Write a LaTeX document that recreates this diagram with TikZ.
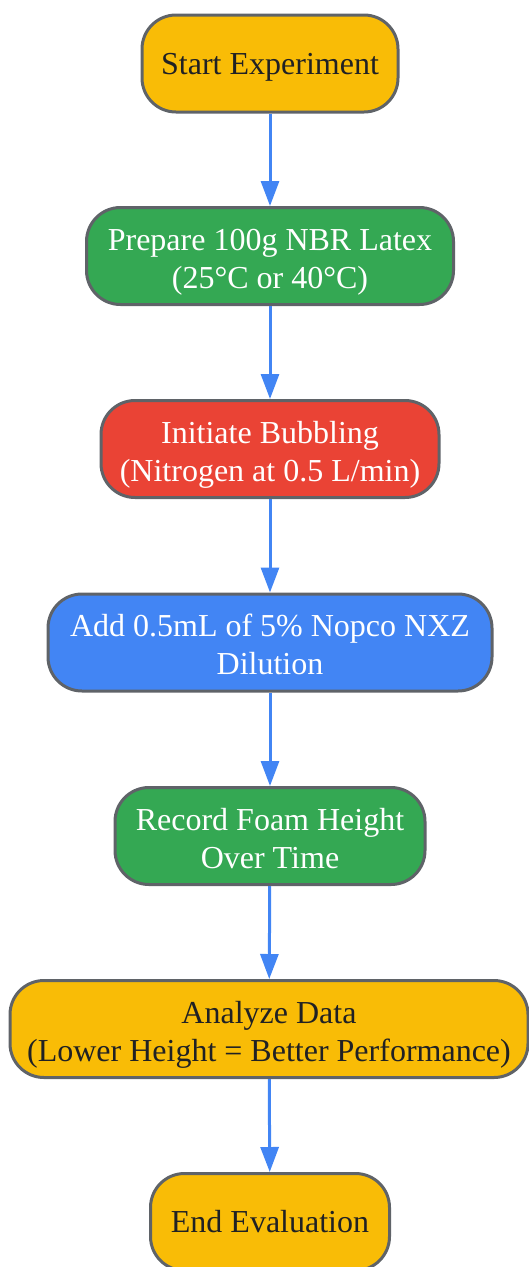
\documentclass[tikz,border=0pt]{standalone}
\usepackage{fontspec}
\setmainfont{Liberation Serif}
\usetikzlibrary{arrows.meta}
\definecolor{gyellow}{HTML}{F9BC06}
\definecolor{ggreen}{HTML}{34A853}
\definecolor{gred}{HTML}{EA4335}
\definecolor{gblue}{HTML}{4285F4}
\definecolor{gborder}{HTML}{5F6368}
\definecolor{gtext}{HTML}{202124}
\newcommand{\topst}{\rule{0pt}{29.8pt}}
\newcommand{\toptwo}{\rule{0pt}{34.8pt}}
\newcommand{\botst}{\rule[-8.2pt]{0pt}{8.2pt}}
\tikzset{
  box/.style={draw=gborder, line width=3pt, rounded corners=34pt, align=center,
    inner sep=0pt, minimum height=97pt, font=\fontsize{32}{38}\selectfont},
  ybox/.style={box, fill=gyellow, text=gtext},
  gbox/.style={box, fill=ggreen, text=white},
  rbox/.style={box, fill=gred, text=white},
  bbox/.style={box, fill=gblue, text=white},
  flow/.style={draw=gblue, line width=3pt, -{Triangle[length=25pt,width=18pt]}}
}
\begin{document}
\begin{tikzpicture}[x=1pt,y=-1pt]
\useasboundingbox (0,0) rectangle (529,1267);
\node[ybox, minimum width=256pt] (start) at (270,63.5) {\topst Start Experiment\botst};
\node[gbox, minimum width=367pt] (prep) at (270,256) {\toptwo Prepare 100g NBR Latex\\(25°C or 40°C)\botst};
\node[rbox, minimum width=338pt] (bubble) at (270,449) {\toptwo Initiate Bubbling\\(Nitrogen at 0.5 L/min)\botst};
\node[bbox, minimum width=444pt] (add) at (270,642.5) {\toptwo Add 0.5mL of 5\% Nopco NXZ\\Dilution\botst};
\node[gbox, minimum width=310pt] (rec) at (270,836) {\toptwo Record Foam Height\\Over Time\botst};
\node[ybox, minimum width=518pt] (ana) at (269,1029) {\toptwo Analyze Data\\(Lower Height = Better Performance)\botst};
\node[ybox, minimum width=239pt] (end) at (270,1222) {\topst End Evaluation\botst};
\draw[flow] (start) -- (prep);
\draw[flow] (prep) -- (bubble);
\draw[flow] (bubble) -- (add);
\draw[flow] (add) -- (rec);
\draw[flow] (rec) -- (ana);
\draw[flow] (ana) -- (end);
\end{tikzpicture}
\end{document}
